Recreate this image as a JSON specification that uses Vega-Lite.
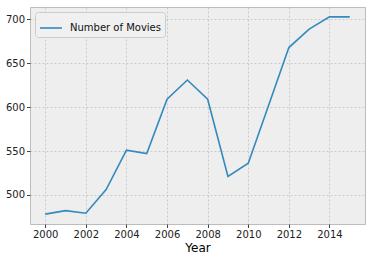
{
  "$schema": "https://vega.github.io/schema/vega-lite/v6.json",
  "autosize": "none",
  "width": 335,
  "height": 217,
  "padding": {"left": 30, "top": 7, "right": 6, "bottom": 38},
  "background": "white",
  "config": {
    "font": "DejaVu Sans",
    "view": {"fill": "#eeeeee", "stroke": "#bcbcbc", "strokeWidth": 1}
  },
  "data": {
    "values": [
      {"Year": 2000, "Movies": 478, "series": "Number of Movies"},
      {"Year": 2001, "Movies": 482, "series": "Number of Movies"},
      {"Year": 2002, "Movies": 479, "series": "Number of Movies"},
      {"Year": 2003, "Movies": 506, "series": "Number of Movies"},
      {"Year": 2004, "Movies": 551, "series": "Number of Movies"},
      {"Year": 2005, "Movies": 547, "series": "Number of Movies"},
      {"Year": 2006, "Movies": 609, "series": "Number of Movies"},
      {"Year": 2007, "Movies": 631, "series": "Number of Movies"},
      {"Year": 2008, "Movies": 609, "series": "Number of Movies"},
      {"Year": 2009, "Movies": 521, "series": "Number of Movies"},
      {"Year": 2010, "Movies": 536, "series": "Number of Movies"},
      {"Year": 2011, "Movies": 602, "series": "Number of Movies"},
      {"Year": 2012, "Movies": 668, "series": "Number of Movies"},
      {"Year": 2013, "Movies": 689, "series": "Number of Movies"},
      {"Year": 2014, "Movies": 703, "series": "Number of Movies"},
      {"Year": 2015, "Movies": 703, "series": "Number of Movies"}
    ]
  },
  "mark": {"type": "line", "strokeWidth": 1.6, "clip": true},
  "encoding": {
    "x": {
      "field": "Year",
      "type": "quantitative",
      "scale": {"domain": [1999.25, 2015.75], "nice": false, "zero": false},
      "axis": {
        "title": "Year",
        "titleFontSize": 12,
        "titleFontWeight": "normal",
        "titleColor": "#000000",
        "titlePadding": 3,
        "values": [2000, 2002, 2004, 2006, 2008, 2010, 2012, 2014],
        "format": "d",
        "labelFontSize": 10,
        "labelColor": "#222222",
        "labelPadding": 2,
        "tickSize": 3.5,
        "tickColor": "#444444",
        "domain": false,
        "grid": true,
        "gridColor": "#b2b2b2",
        "gridDash": [2, 2],
        "gridWidth": 0.6,
        "labelFlush": false
      }
    },
    "y": {
      "field": "Movies",
      "type": "quantitative",
      "scale": {"domain": [466.75, 714.25], "nice": false, "zero": false},
      "axis": {
        "title": null,
        "values": [500, 550, 600, 650, 700],
        "labelFontSize": 10,
        "labelColor": "#222222",
        "labelPadding": 2,
        "tickSize": 3.5,
        "tickColor": "#444444",
        "domain": false,
        "grid": true,
        "gridColor": "#b2b2b2",
        "gridDash": [2, 2],
        "gridWidth": 0.6,
        "labelFlush": false
      }
    },
    "color": {
      "field": "series",
      "type": "nominal",
      "scale": {"range": ["#348ABD"]},
      "legend": {
        "title": null,
        "orient": "top-left",
        "offset": 5,
        "symbolType": "stroke",
        "symbolSize": 484,
        "symbolStrokeWidth": 1.6,
        "labelFontSize": 10,
        "labelColor": "#111111",
        "labelOffset": 7,
        "padding": 4,
        "fillColor": "#f0f0f0",
        "strokeColor": "#cccccc",
        "cornerRadius": 3
      }
    }
  }
}
